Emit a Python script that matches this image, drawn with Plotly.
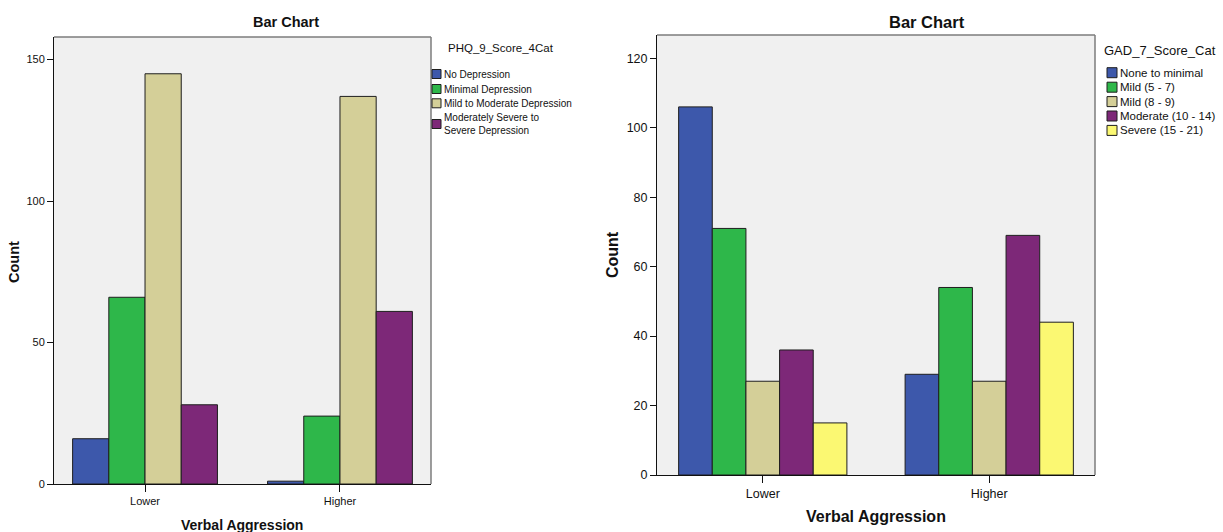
import plotly.graph_objects as go

# ---- data -------------------------------------------------------------
groups = ["Lower", "Higher"]

phq_categories = [
    "No Depression",
    "Minimal Depression",
    "Mild to Moderate Depression",
    "Moderately Severe to<br>Severe Depression",
]
phq_lower = [16, 66, 145, 28]
phq_higher = [1, 24, 137, 61]
phq_ticks = [0, 50, 100, 150]

gad_categories = [
    "None to minimal",
    "Mild (5 - 7)",
    "Mild (8 - 9)",
    "Moderate (10 - 14)",
    "Severe (15 - 21)",
]
gad_lower = [106, 71, 27, 36, 15]
gad_higher = [29, 54, 27, 69, 44]
gad_ticks = [0, 20, 40, 60, 80, 100, 120]

# ---- styling ----------------------------------------------------------
W, H = 1223, 532
FONT = "Liberation Sans, Arial, sans-serif"
colors = ["#3d58ab", "#2eb74a", "#d4cf98", "#7d2878", "#fbf872"]
edge = "#1e1e1e"


def px(x):
    return x / W


def py(y):
    return 1 - y / H


fig = go.Figure()

for i, name in enumerate(phq_categories):
    fig.add_trace(go.Bar(
        x=groups, y=[phq_lower[i], phq_higher[i]], name=name,
        marker=dict(color=colors[i], line=dict(color=edge, width=1)),
        xaxis="x", yaxis="y", showlegend=False,
    ))

for i, name in enumerate(gad_categories):
    fig.add_trace(go.Bar(
        x=groups, y=[gad_lower[i], gad_higher[i]], name=name,
        marker=dict(color=colors[i], line=dict(color=edge, width=1)),
        xaxis="x2", yaxis="y2", showlegend=False,
    ))

common_x = dict(
    type="category", range=[-0.467, 1.467], showline=True, linecolor="#111",
    linewidth=1, ticks="outside", ticklen=7, tickcolor="#111",
    showgrid=False, zeroline=False, automargin=False,
)
common_y = dict(
    showline=True, linecolor="#111", linewidth=1, ticks="outside", ticklen=6,
    tickcolor="#111", showgrid=False, zeroline=False, automargin=False,
)

fig.update_layout(
    width=W, height=H, autosize=False,
    margin=dict(l=0, r=0, t=0, b=0, pad=0),
    paper_bgcolor="white", plot_bgcolor="#f0f0f0",
    barmode="group", bargap=0.257, bargroupgap=0,
    showlegend=False,
    font=dict(family=FONT, color="#111"),
    xaxis=dict(domain=[px(54), px(431)], anchor="y",
               tickfont=dict(size=11, family=FONT), **common_x),
    yaxis=dict(domain=[py(484), py(37)], anchor="x", range=[0, 158],
               tickvals=phq_ticks, tickfont=dict(size=11, family=FONT), **common_y),
    xaxis2=dict(domain=[px(657), px(1095)], anchor="y2",
                tickfont=dict(size=12.5, family=FONT), **common_x),
    yaxis2=dict(domain=[py(475), py(35)], anchor="x2", range=[0, 126.7],
                tickvals=gad_ticks, tickfont=dict(size=12.5, family=FONT), **common_y),
)

shapes = []
annotations = []

# gray top/right frame edges
for xr, yr in (("x domain", "y domain"), ("x2 domain", "y2 domain")):
    shapes.append(dict(type="line", xref=xr, yref=yr, x0=0, x1=1, y0=1, y1=1,
                       line=dict(color="#7c7c7c", width=1.5)))
    shapes.append(dict(type="line", xref=xr, yref=yr, x0=1, x1=1, y0=0, y1=1,
                       line=dict(color="#7c7c7c", width=1.5)))


def text(x, y, s, size, bold=False, xanchor="center", angle=0):
    annotations.append(dict(
        x=px(x), y=py(y), xref="paper", yref="paper", text=s, showarrow=False,
        xanchor=xanchor, yanchor="middle", textangle=angle, align="left",
        font=dict(family=FONT, size=size, color="#111",
                  weight="bold" if bold else "normal"),
    ))


# chart titles and axis titles
text(286, 22, "Bar Chart", 14.5, bold=True)
text(927, 22, "Bar Chart", 16.5, bold=True)
text(242, 525, "Verbal Aggression", 14, bold=True)
text(876, 516, "Verbal Aggression", 16, bold=True)
text(14, 262, "Count", 14.5, bold=True, angle=-90)
text(612, 255, "Count", 16, bold=True, angle=-90)


# hand-built legends
def legend(title, tx, ty, tsize, labels, sx, centers, size, isize):
    text(tx, ty, title, tsize, xanchor="left")
    for i, (lab, cy) in enumerate(zip(labels, centers)):
        shapes.append(dict(
            type="rect", xref="paper", yref="paper",
            x0=px(sx), x1=px(sx + size), y0=py(cy + size / 2), y1=py(cy - size / 2),
            fillcolor=colors[i], line=dict(color=edge, width=1),
        ))
        text(sx + size + 1, cy, lab, isize, xanchor="left")


legend("PHQ_9_Score_4Cat", 446, 48, 11.5, phq_categories,
       432, [74, 89, 103.3, 124], 9, 10)
legend("GAD_7_Score_Cat", 1102, 50, 13, gad_categories,
       1107, [72.7, 87.2, 101.6, 116, 130.4], 10, 11.5)

fig.update_layout(shapes=shapes, annotations=annotations)

fig.write_html("out.html")
